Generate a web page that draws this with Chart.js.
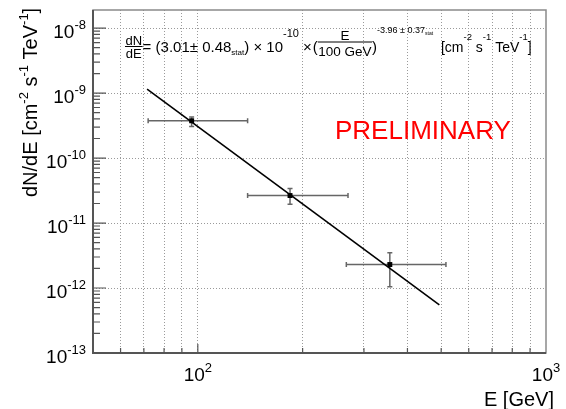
<!DOCTYPE html>
<html>
<head>
<meta charset="utf-8">
<script src="https://cdn.jsdelivr.net/npm/chart.js@4/dist/chart.umd.min.js"></script>
<style>
  html, body { margin: 0; padding: 0; background: #fff; }
  canvas { display: block; }
</style>
</head>
<body>
<canvas id="chart" width="566" height="409"></canvas>
<script>
// measured points (E in GeV, flux in cm^-2 s^-1 TeV^-1)
const pointE = [96, 184, 356];
const pointFlux = [3.75e-10, 2.65e-11, 2.3e-12];
const errELow = [72, 139, 267];
const errEHigh = [139, 270, 516];
const errFluxLow = [3.05e-10, 1.95e-11, 1.05e-12];
const errFluxHigh = [4.3e-10, 3.4e-11, 3.5e-12];

// fitted power law, read at its two ends
const fitE = [71.5, 494];
const fitFlux = [1.15e-9, 5.5e-13];

// axes
const xGrid = [60, 70, 80, 90, 100, 200, 300, 400, 500, 600, 700, 800, 900];
const xLabelExp = [2, 3];
const yLabelExp = [-13, -12, -11, -10, -9, -8];
const yMinorMult = [2, 3, 4, 5, 6, 7, 8, 9];

const FONT = "'Liberation Sans', Arial, Helvetica, sans-serif";

function font(size) { return size + "px " + FONT; }

// draw "10^exp" with left edge at x
function powLabel(ctx, x, y, exp, size, supSize, supDy) {
  ctx.font = font(size);
  ctx.fillText("10", x, y);
  const w = ctx.measureText("10").width;
  ctx.font = font(supSize);
  ctx.fillText(String(exp), x + w, y + supDy);
}
function powWidth(ctx, exp, size, supSize) {
  ctx.font = font(size);
  const w = ctx.measureText("10").width;
  ctx.font = font(supSize);
  return w + ctx.measureText(String(exp)).width;
}

// run of text pieces, some raised / lowered, some fractions
function drawRun(ctx, x, y, parts) {
  parts.forEach(p => {
    ctx.font = font(p.size);
    if (p.frac) {
      const wn = ctx.measureText(p.num).width;
      const wd = ctx.measureText(p.den).width;
      const w = Math.max(wn, wd) + 1;
      ctx.textAlign = "center";
      ctx.fillText(p.num, x + w / 2, y + p.numDy);
      ctx.fillText(p.den, x + w / 2, y + p.denDy);
      ctx.textAlign = "left";
      ctx.beginPath();
      ctx.moveTo(x, y + p.barDy);
      ctx.lineTo(x + w, y + p.barDy);
      ctx.lineWidth = 1;
      ctx.stroke();
      x += w;
    } else {
      ctx.fillText(p.t, x, y + (p.dy || 0));
      x += ctx.measureText(p.t).width;
    }
    x += p.gap || 0;
  });
  return x;
}

const decorations = {
  id: "decorations",
  beforeDatasetsDraw(chart) {
    const ctx = chart.ctx;
    const xs = chart.scales.x, ys = chart.scales.y;
    ctx.save();
    ctx.strokeStyle = "#666";
    ctx.lineWidth = 1.5;
    for (let i = 0; i < pointE.length; i++) {
      const px = xs.getPixelForValue(pointE[i]);
      const py = ys.getPixelForValue(pointFlux[i]);
      const x0 = xs.getPixelForValue(errELow[i]);
      const x1 = xs.getPixelForValue(errEHigh[i]);
      const y0 = ys.getPixelForValue(errFluxLow[i]);
      const y1 = ys.getPixelForValue(errFluxHigh[i]);
      ctx.beginPath();
      ctx.moveTo(x0, py); ctx.lineTo(x1, py);
      ctx.moveTo(x0, py - 2.5); ctx.lineTo(x0, py + 2.5);
      ctx.moveTo(x1, py - 2.5); ctx.lineTo(x1, py + 2.5);
      ctx.moveTo(px, y0); ctx.lineTo(px, y1);
      ctx.moveTo(px - 2.5, y0); ctx.lineTo(px + 2.5, y0);
      ctx.moveTo(px - 2.5, y1); ctx.lineTo(px + 2.5, y1);
      ctx.stroke();
    }
    ctx.restore();
  },
  afterDraw(chart) {
    const ctx = chart.ctx;
    const a = chart.chartArea;
    const xs = chart.scales.x, ys = chart.scales.y;
    ctx.save();

    // frame
    ctx.strokeStyle = "#8a8a8a";
    ctx.lineWidth = 1.5;
    ctx.strokeRect(a.left, a.top, a.right - a.left, a.bottom - a.top);
    ctx.strokeStyle = "#555";
    ctx.lineWidth = 2;
    ctx.beginPath();
    ctx.moveTo(a.left, a.top); ctx.lineTo(a.left, a.bottom); ctx.lineTo(a.right, a.bottom);
    ctx.stroke();

    // y ticks
    ctx.lineWidth = 1.2;
    ctx.beginPath();
    yLabelExp.forEach(e => {
      const yy = ys.getPixelForValue(Math.pow(10, e));
      ctx.moveTo(a.left, yy); ctx.lineTo(a.left + 13, yy);
      yMinorMult.forEach(m => {
        const v = m * Math.pow(10, e);
        if (v > ys.max) return;
        const ym = ys.getPixelForValue(v);
        ctx.moveTo(a.left, ym); ctx.lineTo(a.left + 7, ym);
      });
    });
    // x ticks
    xGrid.forEach(v => {
      const xx = xs.getPixelForValue(v);
      const len = v === 100 ? 9 : 5;
      ctx.moveTo(xx, a.bottom); ctx.lineTo(xx, a.bottom - len);
    });
    ctx.stroke();

    // tick labels
    ctx.fillStyle = "#000";
    ctx.textBaseline = "alphabetic";
    ctx.textAlign = "left";
    yLabelExp.forEach(e => {
      const yy = ys.getPixelForValue(Math.pow(10, e));
      const w = powWidth(ctx, e, 19, 13);
      powLabel(ctx, 86 - w, yy + 9.5, e, 19, 13, -9);
    });
    xLabelExp.forEach(e => {
      const xx = xs.getPixelForValue(Math.pow(10, e));
      const w = powWidth(ctx, e, 19, 13);
      powLabel(ctx, xx - w / 2, a.bottom + 28, e, 19, 13, -9);
    });

    // axis titles
    ctx.font = font(20);
    ctx.textAlign = "right";
    ctx.fillText("E [GeV]", 554, 406);
    ctx.textAlign = "left";

    ctx.save();
    ctx.translate(37, 197);
    ctx.rotate(-Math.PI / 2);
    drawRun(ctx, 0, 0, [
      { t: "dN/dE [cm", size: 20 },
      { t: "-2", size: 13, dy: -9 },
      { t: " s", size: 20 },
      { t: "-1", size: 13, dy: -9 },
      { t: " TeV", size: 20 },
      { t: "-1", size: 13, dy: -9 },
      { t: "]", size: 20 }
    ]);
    ctx.restore();

    // fit formula
    ctx.strokeStyle = "#000";
    drawRun(ctx, 125, 52, [
      { frac: true, num: "dN", den: "dE", size: 13, numDy: -7, denDy: 6, barDy: -5.5 },
      { t: "= (3.01", size: 15 },
      { t: "\u00b1", size: 15 },
      { t: " 0.48", size: 15 },
      { t: "stat", size: 8, dy: 3 },
      { t: ") \u00d7 10", size: 15 },
      { t: "-10", size: 11, dy: -15 },
      { t: " \u00d7", size: 15, gap: 1 },
      { t: "(", size: 15 },
      { frac: true, num: "E", den: "100 GeV", size: 13.5, numDy: -12, denDy: 4, barDy: -10 },
      { t: ")", size: 15 },
      { t: "-3.96 \u00b1 0.37", size: 9, dy: -19 },
      { t: "stat", size: 5, dy: -17 },
      { t: "  [cm", size: 14 },
      { t: "-2", size: 9.5, dy: -12 },
      { t: " s", size: 14 },
      { t: "-1", size: 9.5, dy: -12 },
      { t: " TeV", size: 14 },
      { t: "-1", size: 9.5, dy: -12 },
      { t: "]", size: 14 }
    ]);

    // watermark
    ctx.fillStyle = "#ff0000";
    ctx.font = font(26);
    ctx.fillText("PRELIMINARY", 335, 139);

    ctx.restore();
  }
};

const gridColor = "#9a9a9a";

new Chart(document.getElementById("chart"), {
  type: "scatter",
  data: {
    datasets: [
      {
        label: "fit",
        data: fitE.map((e, i) => ({ x: e, y: fitFlux[i] })),
        showLine: true,
        borderColor: "#000",
        borderWidth: 1.6,
        pointRadius: 0,
        fill: false
      },
      {
        label: "data",
        data: pointE.map((e, i) => ({ x: e, y: pointFlux[i] })),
        pointStyle: "rect",
        pointRadius: 3.5,
        backgroundColor: "#000",
        borderColor: "#000",
        borderWidth: 0
      }
    ]
  },
  options: {
    responsive: false,
    animation: false,
    devicePixelRatio: 1,
    layout: { padding: { left: 93, right: 20, top: 10, bottom: 56 } },
    plugins: { legend: { display: false }, tooltip: { enabled: false } },
    scales: {
      x: {
        type: "logarithmic",
        min: 50,
        max: 1000,
        afterBuildTicks: axis => { axis.ticks = xGrid.map(v => ({ value: v })); },
        ticks: { display: false },
        grid: { color: gridColor, lineWidth: 1, drawTicks: false },
        border: { display: false, dash: [1, 2] }
      },
      y: {
        type: "logarithmic",
        min: 1e-13,
        max: 1.9e-8,
        afterBuildTicks: axis => {
          axis.ticks = yLabelExp.slice(1).map(e => ({ value: Math.pow(10, e) }));
        },
        ticks: { display: false },
        grid: { color: gridColor, lineWidth: 1, drawTicks: false },
        border: { display: false, dash: [1, 2] }
      }
    }
  },
  plugins: [decorations]
});
</script>
</body>
</html>
